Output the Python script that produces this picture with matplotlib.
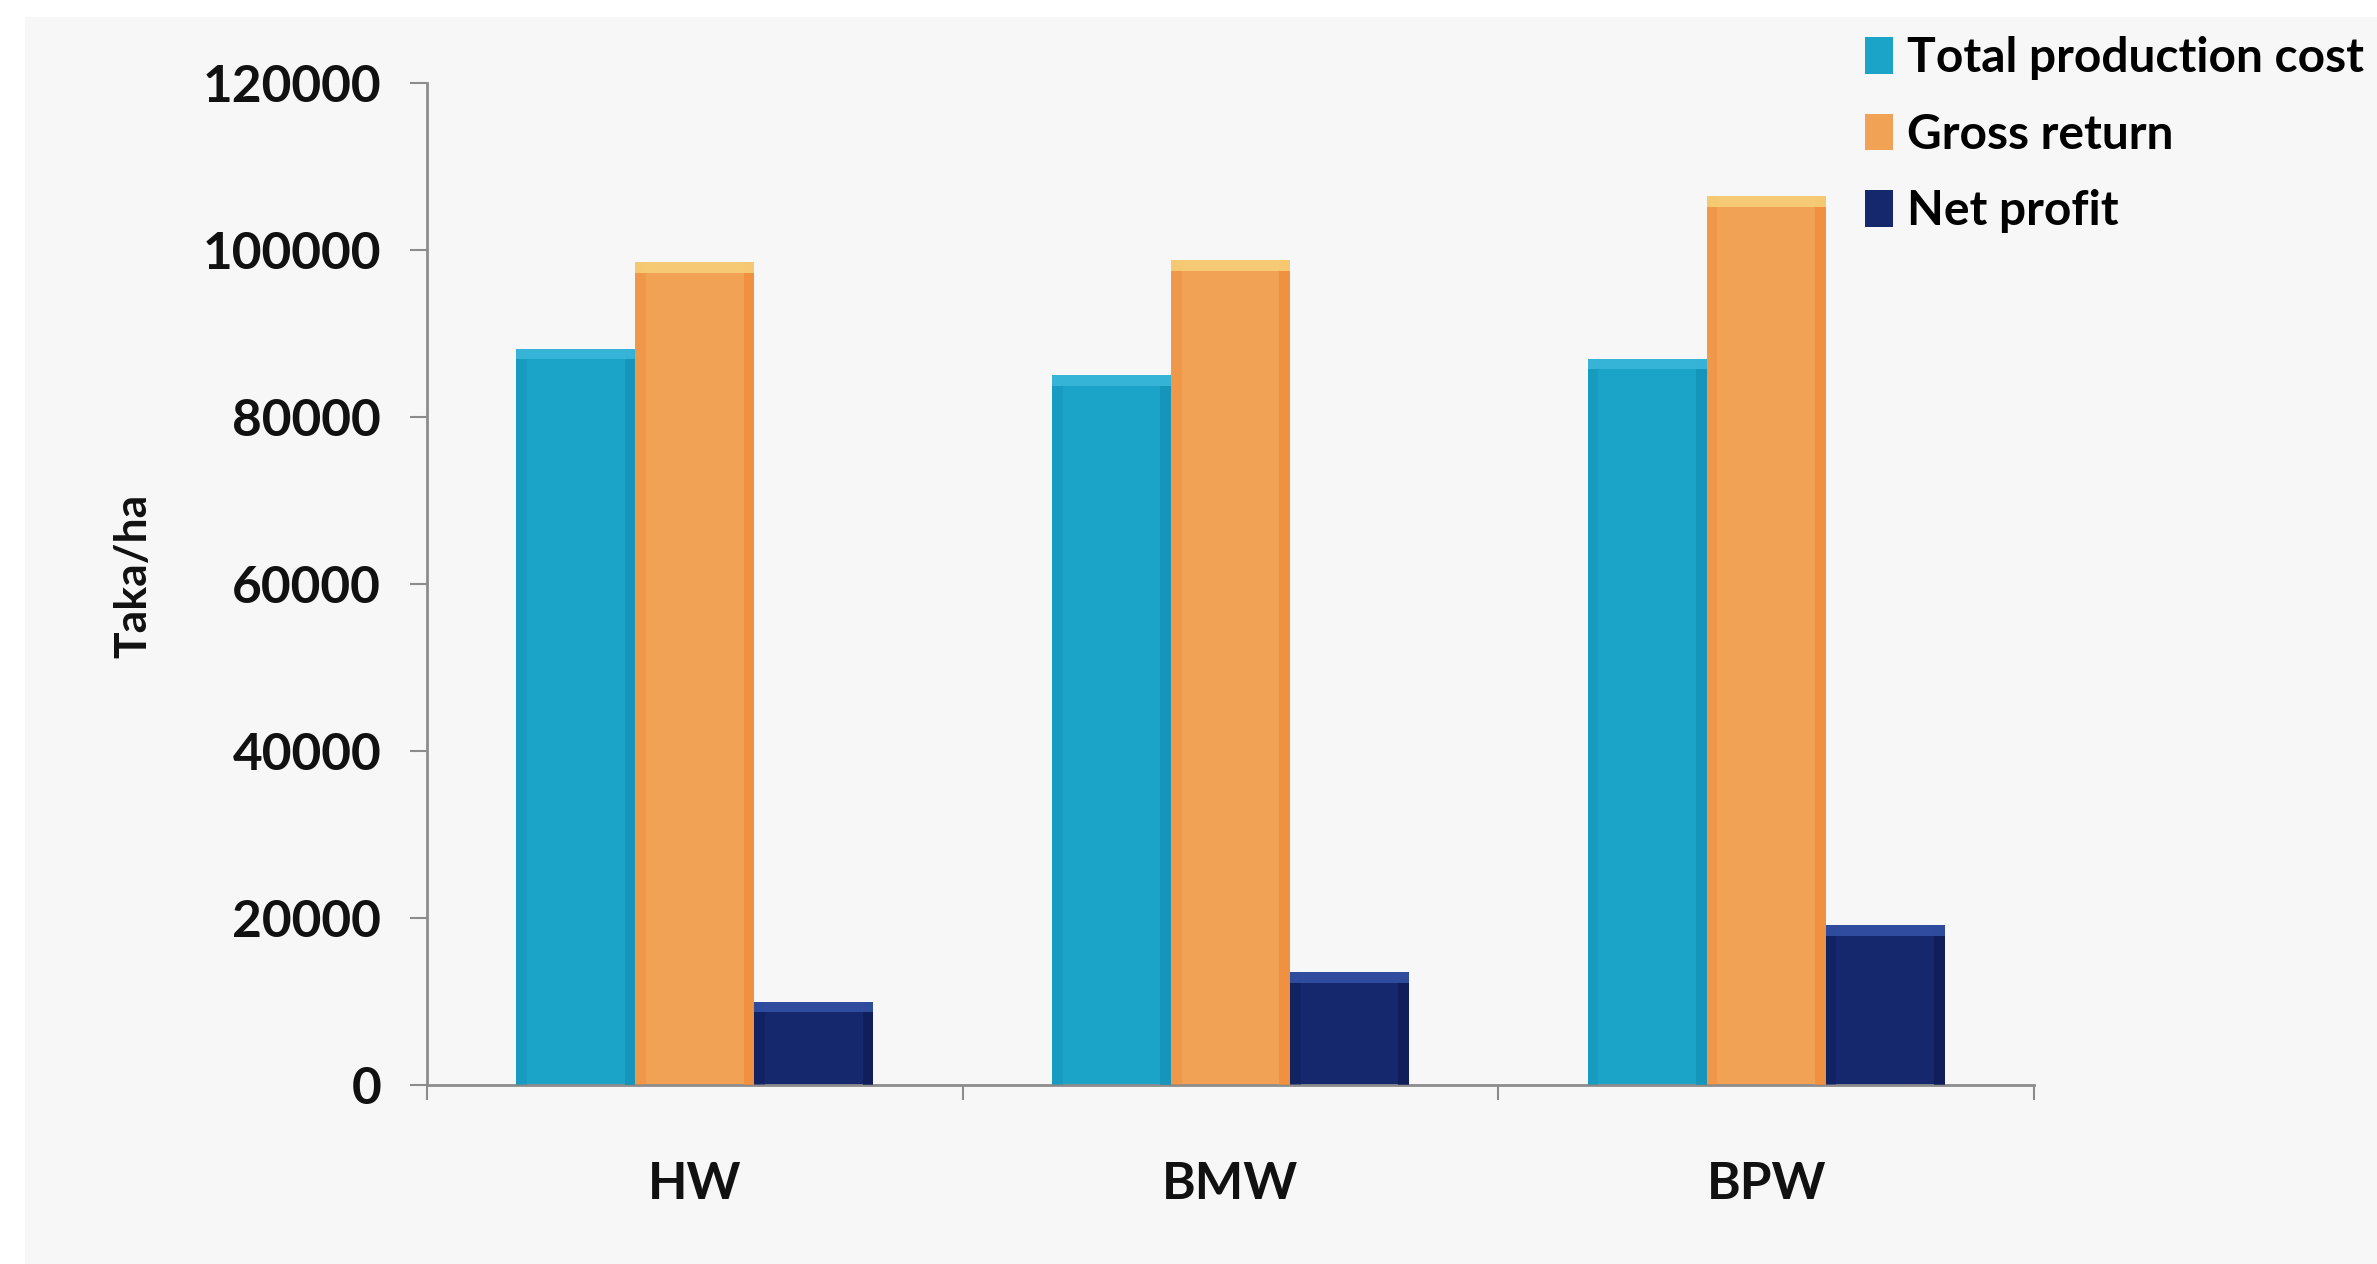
import matplotlib
matplotlib.use("Agg")
import matplotlib.pyplot as plt
from matplotlib.patches import Rectangle
import numpy as np

categories = ["HW", "BMW", "BPW"]
series_names = ["Total production cost", "Gross return", "Net profit"]
total_cost = [88200, 85000, 87000]
gross_return = [98600, 98800, 106500]
net_profit = [10000, 13500, 19200]
y_ticks = [0, 20000, 40000, 60000, 80000, 100000, 120000]

base_colors = ["#1ba3c8", "#f2a254", "#15286e"]
edge_dark = ["#1490b5", "#ee8a3a", "#0e1c55"]
cap_light = ["#3cb8dc", "#f7d27a", "#3553a8"]

plt.rcParams["font.family"] = ["Lato", "DejaVu Sans"]
plt.rcParams["font.weight"] = "bold"

W, H = 2377, 1264
fig = plt.figure(figsize=(W / 100, H / 100), dpi=100)
fig.patch.set_facecolor("white")
panel = Rectangle((25 / W, 0), 1 - 25 / W, 1 - 17 / H,
                  transform=fig.transFigure, facecolor="#f7f7f7",
                  edgecolor="none", zorder=-10)
fig.patches.append(panel)

ax = fig.add_axes([427 / W, 1 - 1085 / H, 1607 / W, (1085 - 83) / H])
ax.set_facecolor("none")
ax.set_zorder(1)

x = np.arange(len(categories))
width = 0.222
offsets = [-width, 0, width]
series = [total_cost, gross_return, net_profit]

handles = []
for i, vals in enumerate(series):
    xs = x + offsets[i]
    vals = np.asarray(vals, dtype=float)
    b = ax.bar(xs, vals, width, color=base_colors[i], edgecolor="none",
               zorder=2, label=series_names[i])
    handles.append(b)
    # soft darker side strips for a slight cylinder look
    strip = width * 0.09
    ax.bar(xs - width / 2 + strip / 2, vals, strip, color=edge_dark[i],
           edgecolor="none", zorder=3, alpha=0.4)
    ax.bar(xs + width / 2 - strip / 2, vals, strip, color=edge_dark[i],
           edgecolor="none", zorder=3, alpha=0.7)
    # lighter bevel at the top of each bar
    cap = 1300
    ax.bar(xs, np.full_like(vals, cap), width, bottom=vals - cap,
           color=cap_light[i], edgecolor="none", zorder=4, alpha=0.85)

ax.set_xlim(-0.5, 2.5)
ax.set_ylim(0, 120000)
ax.set_yticks(y_ticks)
ax.set_yticklabels([str(v) for v in y_ticks])
ax.set_xticks(x)
ax.set_xticklabels(categories)
ax.set_xticks([-0.5, 0.5, 1.5, 2.5], minor=True)

for sp in ["top", "right"]:
    ax.spines[sp].set_visible(False)
for sp in ["left", "bottom"]:
    ax.spines[sp].set_color("#8c8c8c")
    ax.spines[sp].set_linewidth(2)

ax.tick_params(axis="y", direction="out", length=12, width=1.5, color="#8c8c8c",
               pad=21, labelsize=37, labelcolor="#111111")
ax.tick_params(axis="x", which="major", length=0, pad=55, labelsize=37,
               labelcolor="#111111")
ax.tick_params(axis="x", which="minor", direction="out", length=11, width=1.5,
               color="#8c8c8c")

fig.text(133 / W, 1 - 576 / H, "Taka/ha", rotation=90, ha="center",
         va="center", fontsize=32, fontweight="bold", color="#111111")

fig.legend(handles=handles, labels=series_names, loc="upper left",
           bbox_to_anchor=(1865 / W, 1 - 36 / H), frameon=False,
           fontsize=34.5, handlelength=0.58, handleheight=0.8,
           handletextpad=0.3, labelspacing=0.68, borderpad=0,
           borderaxespad=0)

fig.savefig("out.png", dpi=100, facecolor=fig.get_facecolor())
